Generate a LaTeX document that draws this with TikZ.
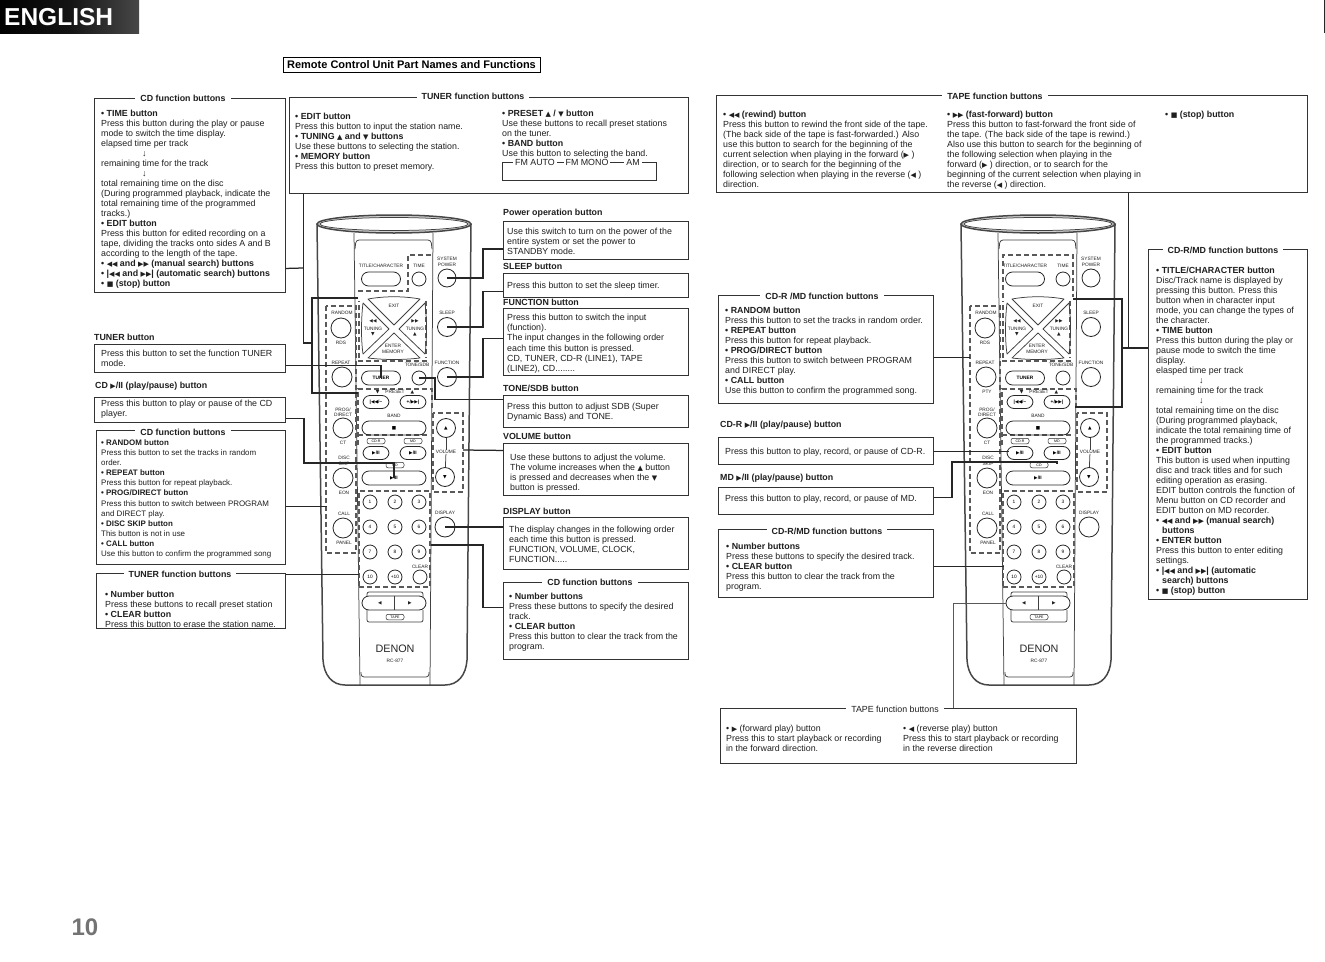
\documentclass[tikz,border=0pt]{standalone}
\usepackage{fontspec}
\setmainfont{Liberation Sans}
\newfontfamily\symfont{DejaVu Sans}
\newcommand{\sym}[1]{{\symfont\fontsize{7}{7}\selectfont #1}}
\newcommand{\ksym}[1]{{\symfont\fontsize{4.6}{5}\selectfont #1}}
\newcommand{\keyname}[1]{\textbf{• #1}}
\newcommand{\rew}{\sym{◀◀}}
\newcommand{\ffw}{\sym{▶▶}}
\newcommand{\skb}{|\sym{◀◀}}
\newcommand{\skf}{\sym{▶▶}|}
\newcommand{\stp}{\sym{■}}
\newcommand{\fwd}{\sym{▶}}
\newcommand{\rvs}{\sym{◀}}
\newcommand{\upt}{\sym{▲}}
\newcommand{\dnt}{\sym{▼}}
\tikzset{
	infobox/.style={shape=rectangle, draw=black!80, line width=0.9pt, anchor=north west, inner sep=0pt},
	boxtext/.style={anchor=north west, yshift=-1.5pt, inner sep=0pt, align=left, text=black!88, font=\fontsize{8.85}{10}\selectfont},
	smalltext/.style={boxtext, font=\fontsize{7.95}{10.1}\selectfont},
	boxtitle/.style={fill=white, inner sep=0pt, inner xsep=5pt, text=black!88, font=\bfseries\fontsize{8.85}{10}\selectfont},
	plaintitle/.style={boxtitle, font=\fontsize{8.85}{10}\selectfont},
	caption/.style={anchor=west, inner sep=0pt, text=black!88, font=\bfseries\fontsize{8.85}{10}\selectfont},
	conn/.style={draw=black!85, line width=1.25pt},
	shell/.style={draw=black!72, line width=1.5pt},
	rail/.style={draw=black!75, line width=0.75pt},
	grp/.style={draw=black!65, line width=1.1pt, dash pattern=on 5pt off 3pt},
	lbl/.style={inner sep=0pt, align=center, text=black!88, font=\fontsize{4.8}{5.4}\selectfont},
	roundkey/.style={shape=circle, draw=black!85, line width=0.8pt, inner sep=0pt, minimum size=#1},
	numkey/.style={roundkey=14pt, font=\fontsize{4.8}{5}\selectfont},
	longkey/.style={shape=rectangle, draw=black!85, line width=0.8pt, inner sep=0pt, minimum width=#1, minimum height=14pt, rounded corners=7pt, font=\bfseries\fontsize{4.8}{5}\selectfont},
	tag/.style={shape=rectangle, draw=black!85, line width=0.5pt, inner sep=0pt, minimum width=18pt, minimum height=5.5pt, rounded corners=2pt, font=\fontsize{3.6}{4}\selectfont},
	remote/.pic={
		\draw[shell] (317,224) -- (323,660) .. controls (324,675) and (332,685) .. (345,685) -- (445,685) .. controls (458,685) and (466,675) .. (467,660) -- (471,224);
		\draw[shell, fill=black!18] (394,224) ellipse [x radius=77, y radius=9];
		\draw[rail, fill=white] (394,224) ellipse [x radius=74, y radius=6.5];
		\draw[rail] (354,233) -- (360,685);
		\draw[rail] (433,233) -- (430,685);
		\draw[rail, rounded corners=3pt] (355,249) -- (356,240) -- (431,240) -- (432,249);
		\draw[rail, rounded corners=3pt] (361,672) -- (361,677) -- (429,677) -- (429,672);
		\draw[grp] (326,306) rectangle (356,553);
		\draw[grp] (359,358) -- (359,301);
		\draw[grp] (426,301) -- (426,358);
		\draw[grp] (358,361) -- (427,361);
		\draw[grp] (358,445) -- (358,389) -- (432,389) -- (432,410);
		\draw[grp] (358,435) -- (430,435);
		\draw[grp] (359,586) -- (359,491) -- (430,491) -- (430,587) -- (359,587);
		\draw[grp] (433,413) rectangle (463,492);
		\node[lbl] (titlelbl) at (381,266) {TITLE/CHARACTER};
		\node[longkey=39pt] (title) at (381,279) {};
		\node[lbl] (timelbl) at (419,266) {TIME};
		\node[roundkey=14pt] (time) at (419,279) {};
		\node[lbl] (powerlbl) at (447,262) {SYSTEM\\POWER};
		\node[roundkey=18pt] (power) at (447,278) {};
		\draw[rail, line join=round] (368,299) .. controls (385,296) and (403,296) .. (420,299) -- (394,325) -- cycle;
		\draw[rail, line join=round] (368,358) .. controls (385,360) and (403,360) .. (420,358) -- (394,333) -- cycle;
		\draw[rail, line join=round] (363,303) .. controls (361,320) and (361,340) .. (363,354) -- (389,329) -- cycle;
		\draw[rail, line join=round] (425,303) .. controls (427,320) and (427,340) .. (425,354) -- (399,329) -- cycle;
		\node[lbl] (exitlbl) at (394,306) {EXIT};
		\node[lbl] (tunedown) at (373,328) {\ksym{◀◀}\\[2pt]TUNING\\[0pt]\ksym{▼}};
		\node[lbl] (tuneup) at (415,328) {\ksym{▶▶}\\[2pt]TUNING\\[0pt]\ksym{▲}};
		\node[lbl] (enterlbl) at (393,349) {ENTER\\MEMORY};
		\node[lbl] (randomlbl) at (342,313) {RANDOM};
		\node[roundkey=20pt] (random) at (341,328) {};
		\node[lbl] (rdslbl) at (341,343) {RDS};
		\node[lbl] (sleeplbl) at (447,313) {SLEEP};
		\node[roundkey=19pt] (sleep) at (447,327) {};
		\node[lbl] (repeatlbl) at (341,363) {REPEAT};
		\node[roundkey=20pt] (repeat) at (342,377) {};
		\node[longkey=39pt] (tuner) at (381,378) {TUNER};
		\node[lbl] (tonelbl) at (417,365) {TONE/SDB};
		\node[roundkey=14pt] (tone) at (419,378) {};
		\node[lbl] (functionlbl) at (447,363) {FUNCTION};
		\node[roundkey=19pt] (function) at (447,377) {};
		\node[lbl] (presetlbl) at (395,392) {\ksym{▼}\hspace{6pt}PRESET\hspace{6pt}\ksym{▲}};
		\node[longkey=26pt, minimum height=13pt] (skipdown) at (376,402) {|\ksym{◀◀}/−};
		\node[longkey=26pt, minimum height=13pt] (skipup) at (413,402) {+/\ksym{▶▶}|};
		\node[lbl] (proglbl) at (343,412) {PROG/\\DIRECT};
		\node[roundkey=20pt] (prog) at (343,428) {};
		\node[lbl] (ctlbl) at (343,443) {CT};
		\node[lbl] (bandlbl) at (394,416) {BAND};
		\node[longkey=64pt] (band) at (394,428) {\ksym{■}};
		\node[roundkey=19pt] (volup) at (446,428) {\ksym{▲}};
		\node[lbl] (volumelbl) at (446,452) {VOLUME};
		\node[roundkey=19pt] (voldown) at (445,477) {\ksym{▼}};
		\draw[rail] (volup) -- (volumelbl);
		\draw[rail] (volumelbl) -- (voldown);
		\node[tag] (cdrtag) at (376,441) {CD-R};
		\node[tag] (mdtag) at (413,441) {MD};
		\node[longkey=26pt, minimum height=13pt] (cdrplay) at (376,453) {\ksym{▶}/II};
		\node[longkey=26pt, minimum height=13pt] (mdplay) at (413,453) {\ksym{▶}/II};
		\node[tag] (cdtag) at (395,465) {CD};
		\node[longkey=64pt] (cdplay) at (394,478) {\ksym{▶}/II};
		\node[lbl] (disclbl) at (344,461) {DISC\\SKIP};
		\node[roundkey=20pt] (disc) at (343,478) {};
		\node[lbl] (eonlbl) at (344,493) {EON};
		\node[lbl] (calllbl) at (344,514) {CALL};
		\node[roundkey=20pt] (call) at (343,528) {};
		\node[lbl] (panellbl) at (344,543) {PANEL};
		\node[numkey] (numa) at (370,502) {1};
		\node[numkey] (numb) at (395,502) {2};
		\node[numkey] (numc) at (419,502) {3};
		\node[numkey] (numd) at (370,527) {4};
		\node[numkey] (nume) at (395,527) {5};
		\node[numkey] (numf) at (419,527) {6};
		\node[numkey] (numg) at (370,552) {7};
		\node[numkey] (numh) at (395,552) {8};
		\node[numkey] (numi) at (419,552) {9};
		\node[numkey] (numj) at (370,577) {10};
		\node[numkey] (numk) at (395,577) {+10};
		\node[roundkey=14pt] (clear) at (420,577) {};
		\node[lbl] (clearlbl) at (420,567) {CLEAR};
		\node[lbl] (displaylbl) at (445,513) {DISPLAY};
		\node[roundkey=20pt] (display) at (445,527) {};
		\draw[rail, rounded corners=2pt] (367,597) -- (367,592) -- (423,592) -- (423,597);
		\draw[rail, rounded corners=2pt] (367,610) -- (367,622) -- (423,622) -- (423,610);
		\node[longkey=64pt, fill=white] (tape) at (394,603) {\hspace{30pt}};
		\node[lbl] (taperev) at (380,603) {\ksym{◀}};
		\node[lbl] (tapefwd) at (410,603) {\ksym{▶}};
		\draw[rail] (tape.north) -- (tape.south);
		\node[tag] (tapetag) at (395,617) {TAPE};
		\node[inner sep=0pt, text=black!85, font=\fontsize{10.8}{14}\selectfont] (denon) at (395,649) {DENON};
		\node[lbl] (model) at (395,661) {RC-877};
	}
}
\begin{document}
\begin{tikzpicture}[x=1pt, y=-1pt]
	\useasboundingbox (0,0) rectangle (1325,961);
	\fill[white] (0,0) rectangle (1325,961);
	\shade[left color=black, right color=black!72, middle color=black!92] (0,0) rectangle (139,33);
	\node[anchor=west, inner sep=0pt, text=white, font=\bfseries\fontsize{24.5}{27}\selectfont] (english) at (4,17) {ENGLISH};
	\fill[black!85] (1323.5,0) rectangle (1325,33);
	\node[shape=rectangle, draw=black, line width=1pt, inner sep=0pt, minimum width=257pt, minimum height=15pt, font=\bfseries\fontsize{11}{12}\selectfont] (pagetitle) at (411.5,64.5) {Remote Control Unit Part Names and Functions};
	\node[inner sep=0pt, text=black!55, font=\bfseries\fontsize{24}{24}\selectfont] (pagenumber) at (85,927) {10};

	\pic (L) at (0,0) {remote};
	\pic (R) at (644,0) {remote};
	\draw[grp] (431,255) -- (408,255) -- (408,291) -- (358,291);
	\draw[grp] (1003,298) -- (1003,255) -- (1073,255) -- (1073,297);
	\node[lbl] (Rpty) at (987,392) {PTY};

	\node[infobox, minimum width=191pt, minimum height=194pt] (cdfnbox) at (94,98) {};
	\node[boxtitle] (cdfntitle) at (183,98) {CD function buttons};
	\node[boxtext] (cdfntext) at (101,108) {\keyname{TIME button}\\Press this button during the play or pause\\mode to switch the time display.\\elapsed time per track\\\hspace*{41pt}↓\\remaining time for the track\\\hspace*{41pt}↓\\total remaining time on the disc\\(During programmed playback, indicate the\\total remaining time of the programmed\\tracks.)\\\keyname{EDIT button}\\Press this button for edited recording on a\\tape, dividing the tracks onto sides A and B\\according to the length of the tape.\\\keyname{\rew{} and \ffw{} (manual search) buttons}\\\keyname{\skb{} and \skf{} (automatic search) buttons}\\\keyname{\stp{} (stop) button}};

	\node[caption] (tunercap) at (94,337) {TUNER button};
	\node[infobox, minimum width=191pt, minimum height=28pt] (tunerbox) at (94,344) {};
	\node[boxtext] (tunertext) at (101,348) {Press this button to set the function TUNER\\mode.};

	\node[caption] (cdplaycap) at (95,386) {CD \fwd/II (play/pause) button};
	\node[infobox, minimum width=191pt, minimum height=25pt] (cdplaybox) at (94,397) {};
	\node[boxtext] (cdplaytext) at (101,398) {Press this button to play or pause of the CD\\player.};

	\node[infobox, minimum width=189pt, minimum height=134pt] (cdkeybox) at (96,430) {};
	\node[boxtitle] (cdkeytitle) at (183,432) {CD function buttons};
	\node[smalltext] (cdkeytext) at (101,438) {\keyname{RANDOM button}\\Press this button to set the tracks in random\\order.\\\keyname{REPEAT button}\\Press this button for repeat playback.\\\keyname{PROG/DIRECT button}\\Press this button to switch between PROGRAM\\and DIRECT play.\\\keyname{DISC SKIP button}\\This button is not in use\\\keyname{CALL button}\\Use this button to confirm the programmed song};

	\node[infobox, minimum width=189pt, minimum height=55pt] (tunerkeybox) at (96,573) {};
	\node[boxtitle] (tunerkeytitle) at (180,574) {TUNER function buttons};
	\node[boxtext] (tunerkeytext) at (105,589) {\keyname{Number button}\\Press these buttons to recall preset station\\\keyname{CLEAR button}\\Press this button to erase the station name.};

	\node[infobox, minimum width=399pt, minimum height=96pt] (tunerfnbox) at (289,97) {};
	\node[boxtitle] (tunerfntitle) at (473,96) {TUNER function buttons};
	\node[boxtext] (tunerfntexta) at (295,111) {\keyname{EDIT button}\\Press this button to input the station name.\\\keyname{TUNING \upt{} and \dnt{} buttons}\\Use these buttons to selecting the station.\\\keyname{MEMORY button}\\Press this button to preset memory.};
	\node[boxtext] (tunerfntextb) at (502,108) {\keyname{PRESET \upt{} / \dnt{} button}\\Use these buttons to recall preset stations\\on the tuner.\\\keyname{BAND button}\\Use this button to selecting the band.};
	\draw[line width=0.6pt, draw=black!80] (502,162) rectangle (656,180);
	\node[plaintitle, inner xsep=2pt] (fmauto) at (535,162) {FM AUTO};
	\node[plaintitle, inner xsep=2pt] (fmmono) at (587,162) {FM MONO};
	\node[plaintitle, inner xsep=2pt] (fmam) at (633,162) {AM};
	\draw[line width=0.6pt, draw=black!80] (fmauto) -- (fmmono);
	\draw[line width=0.6pt, draw=black!80] (fmmono) -- (fmam);

	\node[caption] (powercap) at (503,213) {Power operation button};
	\node[infobox, minimum width=185pt, minimum height=38pt] (powerbox) at (503,221) {};
	\node[boxtext] (powertext) at (507,226) {Use this switch to turn on the power of the\\entire system or set the power to\\STANDBY mode.};

	\node[caption] (sleepcap) at (503,266) {SLEEP button};
	\node[infobox, minimum width=185pt, minimum height=24pt] (sleepbox) at (503,273) {};
	\node[boxtext] (sleeptext) at (507,280) {Press this button to set the sleep timer.};

	\node[caption] (functioncap) at (503,302.5) {FUNCTION button};
	\node[infobox, minimum width=185pt, minimum height=67pt] (functionbox) at (503,308) {};
	\node[boxtext, font=\fontsize{8.85}{10.3}\selectfont] (functiontext) at (507,312) {Press this button to switch the input\\(function).\\The input changes in the following order\\each time this button is pressed.\\CD, TUNER, CD-R (LINE1), TAPE\\(LINE2), CD........};

	\node[caption] (tonecap) at (503,388) {TONE/SDB button};
	\node[infobox, minimum width=185pt, minimum height=32pt] (tonebox) at (503,395) {};
	\node[boxtext] (tonetext) at (507,401) {Press this button to adjust SDB (Super\\Dynamic Bass) and TONE.};

	\node[caption] (volumecap) at (503,436) {VOLUME button};
	\node[infobox, minimum width=185pt, minimum height=52pt] (volumebox) at (503,443) {};
	\node[boxtext] (volumetext) at (510,452) {Use these buttons to adjust the volume.\\The volume increases when the \upt{} button\\is pressed and decreases when the \dnt\\button is pressed.};

	\node[caption] (displaycap) at (503,511) {DISPLAY button};
	\node[infobox, minimum width=185pt, minimum height=52pt] (displaybox) at (503,517) {};
	\node[boxtext] (displaytext) at (509,524) {The display changes in the following order\\each time this button is pressed.\\FUNCTION, VOLUME, CLOCK,\\FUNCTION.....};

	\node[infobox, minimum width=185pt, minimum height=77pt] (numberbox) at (503,582) {};
	\node[boxtitle] (numbertitle) at (590,582) {CD function buttons};
	\node[boxtext] (numbertext) at (509,591) {\keyname{Number buttons}\\Press these buttons to specify the desired\\track.\\\keyname{CLEAR button}\\Press this button to clear the track from the\\program.};

	\node[infobox, minimum width=591pt, minimum height=97pt] (tapefnbox) at (716,95) {};
	\node[boxtitle] (tapefntitle) at (995,96) {TAPE function buttons};
	\node[boxtext] (tapefntexta) at (723,109) {\keyname{\rew{} (rewind) button}\\Press this button to rewind the front side of the tape.\\(The back side of the tape is fast-forwarded.) Also\\use this button to search for the beginning of the\\current selection when playing in the forward (\fwd{} )\\direction, or to search for the beginning of the\\following selection when playing in the reverse (\rvs{} )\\direction.};
	\node[boxtext] (tapefntextb) at (947,109) {\keyname{\ffw{} (fast-forward) button}\\Press this button to fast-forward the front side of\\the tape. (The back side of the tape is rewind.)\\Also use this button to search for the beginning of\\the following selection when playing in the\\forward (\fwd{} ) direction, or to search for the\\beginning of the current selection when playing in\\the reverse (\rvs{} ) direction.};
	\node[boxtext] (tapefntextc) at (1165,109) {\keyname{\stp{} (stop) button}};

	\node[infobox, minimum width=215pt, minimum height=108pt] (cdrkeybox) at (718,295) {};
	\node[boxtitle] (cdrkeytitle) at (822,296) {CD-R /MD function buttons};
	\node[boxtext] (cdrkeytext) at (725,305) {\keyname{RANDOM button}\\Press this button to set the tracks in random order.\\\keyname{REPEAT button}\\Press this button for repeat playback.\\\keyname{PROG/DIRECT button}\\Press this button to switch between PROGRAM\\and DIRECT play.\\\keyname{CALL button}\\Use this button to confirm the programmed song.};

	\node[caption] (cdrcap) at (720,425) {CD-R \fwd/II (play/pause) button};
	\node[infobox, minimum width=215pt, minimum height=27pt] (cdrbox) at (718,437) {};
	\node[boxtext] (cdrtext) at (725,446) {Press this button to play, record, or pause of CD-R.};

	\node[caption] (mdcap) at (720,478) {MD \fwd/II (play/pause) button};
	\node[infobox, minimum width=215pt, minimum height=27pt] (mdbox) at (718,487) {};
	\node[boxtext] (mdtext) at (725,493) {Press this button to play, record, or pause of MD.};

	\node[infobox, minimum width=215pt, minimum height=68pt] (cdrnumbox) at (718,529) {};
	\node[boxtitle] (cdrnumtitle) at (827,531) {CD-R/MD function buttons};
	\node[boxtext] (cdrnumtext) at (726,541) {\keyname{Number buttons}\\Press these buttons to specify the desired track.\\\keyname{CLEAR button}\\Press this button to clear the track from the\\program.};

	\node[infobox, minimum width=159pt, minimum height=350pt] (mdfnbox) at (1148,249) {};
	\node[boxtitle] (mdfntitle) at (1223,250) {CD-R/MD function buttons};
	\node[boxtext] (mdfntext) at (1156,265) {\keyname{TITLE/CHARACTER button}\\Disc/Track name is displayed by\\pressing this button. Press this\\button when in character input\\mode, you can change the types of\\the character.\\\keyname{TIME button}\\Press this button during the play or\\pause mode to switch the time\\display.\\elasped time per track\\\hspace*{43pt}↓\\remaining time for the track\\\hspace*{43pt}↓\\total remaining time on the disc\\(During programmed playback,\\indicate the total remaining time of\\the programmed tracks.)\\\keyname{EDIT button}\\This button is used when inputting\\disc and track titles and for such\\editing operation as erasing.\\EDIT button controls the function of\\Menu button on CD recorder and\\EDIT button on MD recorder.\\\keyname{\rew{} and \ffw{} (manual search)}\\\hspace*{6pt}\textbf{buttons}\\\keyname{ENTER button}\\Press this button to enter editing\\settings.\\\keyname{\skb{} and \skf{} (automatic}\\\hspace*{6pt}\textbf{search) buttons}\\\keyname{\stp{} (stop) button}};

	\node[infobox, minimum width=356pt, minimum height=55pt] (playbox) at (720,708) {};
	\node[plaintitle] (playtitle) at (895,709) {TAPE function buttons};
	\node[boxtext] (playtexta) at (726,723) {• \fwd{} (forward play) button\\Press this to start playback or recording\\in the forward direction.};
	\node[boxtext] (playtextb) at (903,723) {• \rvs{} (reverse play) button\\Press this to start playback or recording\\in the reverse direction};

	\coordinate (Ldrop) at (303,268);
	\coordinate (Lrail) at (312,343);
	\coordinate (Leditgroup) at (358,298);
	\coordinate (Lpresetgroup) at (358,393);
	\coordinate (Lcdelbow) at (304,463);
	\coordinate (Ltonetop) at (435,378);
	\coordinate (Lvolgroup) at (463,450);
	\coordinate (Lnumgroup) at (431,545);
	\coordinate (Rrail) at (1122,348);
	\coordinate (Rfngroup) at (1073,299);
	\coordinate (Rpresetgroup) at (1075,407);
	\coordinate (Rmdelbow) at (952,462);
	\coordinate (Rtapeelbow) at (953,603);
	\draw[conn] ([xshift=-185.5pt]tunerfnbox.south) |- (Lrail);
	\draw[conn] ([yshift=-73pt]cdfnbox.east) -- (Ldrop);
	\draw[conn] (Leditgroup) -| (Lrail) |- (Lpresetgroup);
	\draw[conn] ([yshift=-7pt]tunerbox.east) -| (Ltuner.center);
	\draw[conn] ([yshift=-8.5pt]cdplaybox.east) -| (Lcdelbow) -| (Lcdplay.center);
	\draw[conn] ([yshift=-9pt]cdkeybox.east) -- ++(41,0);
	\draw[conn] ([yshift=26.5pt]tunerkeybox.east) -- ++(73,0);
	\draw[conn] ([yshift=-8.5pt]powerbox.west) -- ++(-20,0) |- (Lpower.center);
	\draw[conn] ([yshift=-6pt]sleepbox.west) -- ++(-20,0) |- (Lsleep.center);
	\draw[conn] ([yshift=3.5pt]functionbox.west) -- ++(-20,0) |- (Lfunction.center);
	\draw[conn] ([yshift=12pt]tonebox.west) -| (Ltonetop) -- (Ltone.center);
	\draw[conn] ([yshift=19pt]volumebox.west) -- (Lvolgroup);
	\draw[conn] (displaybox.west |- Ldisplay) -- (Ldisplay.center);
	\draw[conn] ([yshift=13.5pt]numberbox.west) -- ++(-20,0) |- (Lnumgroup);
	\draw[conn] ([xshift=116.5pt]tapefnbox.south) |- (Rrail);
	\draw[conn] (Rfngroup) -| (Rrail) |- (Rpresetgroup);
	\draw[conn] (mdfnbox.west |- Rrail) -- (Rrail);
	\draw[conn] ([yshift=-8pt]cdrkeybox.east) -- ++(36,0);
	\draw[conn] ([yshift=-0.5pt]cdrbox.east) -- ++(75,0);
	\draw[conn] ([yshift=3.5pt]mdbox.east) -| (Rmdelbow) -| ([yshift=-4pt]Rmdplay.south);
	\draw[conn] ([yshift=-3pt]cdrnumbox.east) -- ++(70,0);
	\draw[conn, draw=black!65, line width=1pt] (Rtapeelbow |- playbox.north) -- (Rtapeelbow) -- (Rtape.west);
\end{tikzpicture}
\end{document}
